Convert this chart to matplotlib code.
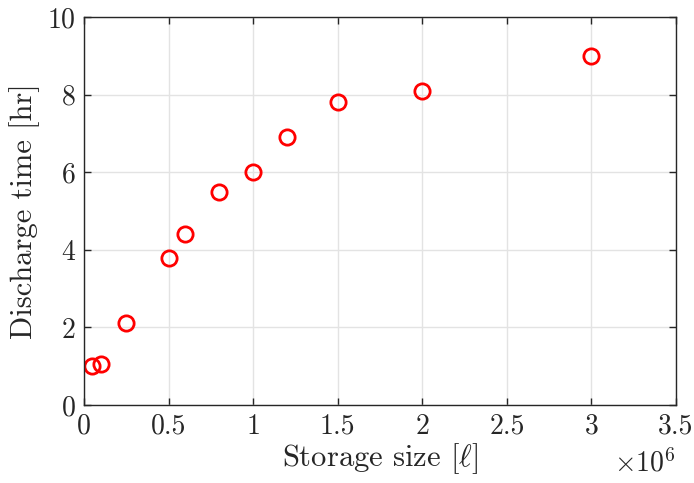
import matplotlib
matplotlib.use("Agg")
import matplotlib.pyplot as plt
from matplotlib.ticker import FuncFormatter, MultipleLocator

plt.rcParams['font.family'] = 'serif'
plt.rcParams['font.serif'] = ['cmr10']
plt.rcParams['mathtext.fontset'] = 'cm'
plt.rcParams['axes.formatter.use_mathtext'] = True

storage_size = [0.05e6, 0.1e6, 0.25e6, 0.5e6, 0.6e6, 0.8e6, 1.0e6, 1.2e6, 1.5e6, 2.0e6, 3.0e6]
discharge_time = [1.0, 1.05, 2.1, 3.8, 4.4, 5.5, 6.0, 6.9, 7.8, 8.1, 9.0]

fig = plt.figure(figsize=(6.94, 4.83), dpi=100)
ax = fig.add_axes([0.121, 0.1615, 0.853, 0.8035])

ax.plot(storage_size, discharge_time, linestyle='none', marker='o', markersize=11,
        markerfacecolor='none', markeredgecolor='red', markeredgewidth=2)

ax.set_xlim(0, 3.5e6)
ax.set_ylim(0, 10)
ax.xaxis.set_major_locator(MultipleLocator(0.5e6))
ax.yaxis.set_major_locator(MultipleLocator(2))

def fmt(v, pos):
    return f"{v/1e6:g}"
ax.xaxis.set_major_formatter(FuncFormatter(fmt))

ax.grid(True, color='#e3e3e3', linewidth=1)
ax.set_axisbelow(True)
for sp in ax.spines.values():
    sp.set_color('#262626')
    sp.set_linewidth(1)
ax.tick_params(direction='in', top=True, right=True, length=5, width=1,
               labelsize=20, colors='#262626', pad=6)

ax.set_xlabel(r'Storage size $[\ell]$', fontsize=22, color='#262626', labelpad=1)
ax.set_ylabel('Discharge time [hr]', fontsize=22, color='#262626', labelpad=5)

fig.text(0.974, 0.012, r'$\times 10^6$', fontsize=20, color='#262626', ha='right', va='bottom')

fig.savefig('out.png', dpi=100)
